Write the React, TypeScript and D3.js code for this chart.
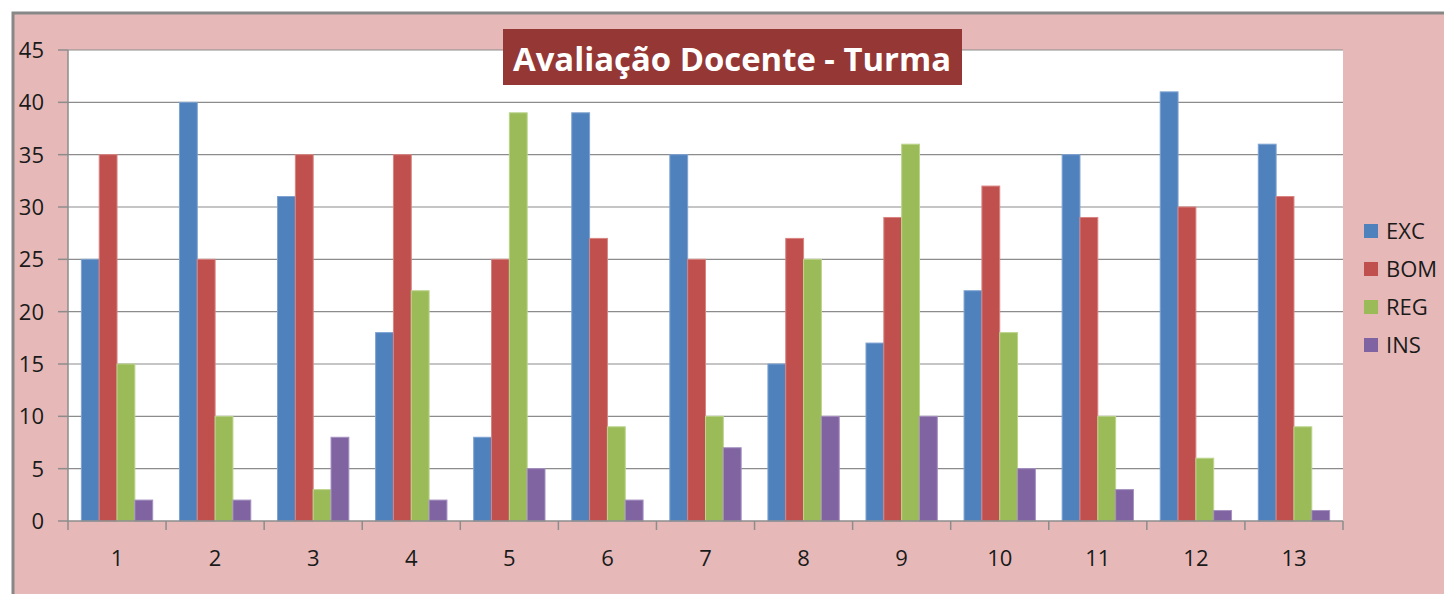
import React, { useRef, useEffect } from "react";
import * as d3 from "d3";

const categories = ["1", "2", "3", "4", "5", "6", "7", "8", "9", "10", "11", "12", "13"];
const seriesNames = ["EXC", "BOM", "REG", "INS"];
const exc = [25, 40, 31, 18, 8, 39, 35, 15, 17, 22, 35, 41, 36];
const bom = [35, 25, 35, 35, 25, 27, 25, 27, 29, 32, 29, 30, 31];
const reg = [15, 10, 3, 22, 39, 9, 10, 25, 36, 18, 10, 6, 9];
const ins = [2, 2, 8, 2, 5, 2, 7, 10, 10, 5, 3, 1, 1];
const yTicks = [0, 5, 10, 15, 20, 25, 30, 35, 40, 45];
const title = "Avaliação Docente - Turma";

const colors = ["#4F81BD", "#C0504D", "#9BBB59", "#8064A2"];
const strokes = ["#7FA3D1", "#D98482", "#BCD48C", "#A691C0"];

const App: React.FC = () => {
  const ref = useRef<SVGSVGElement>(null);

  useEffect(() => {
    document.body.style.margin = "0";
    document.documentElement.style.overflow = "hidden";

    const svg = d3.select(ref.current);
    svg.selectAll("*").remove();

    const width = 1445,
      height = 594;
    const plot = { left: 68, right: 1343, top: 50, bottom: 521 };
    const font = "'Open Sans', Calibri, sans-serif";
    const values = [exc, bom, reg, ins];

    // Background frame (runs off the right and bottom edges)
    svg
      .append("rect")
      .attr("x", 0)
      .attr("y", 0)
      .attr("width", width)
      .attr("height", height)
      .attr("fill", "#fff");
    svg
      .append("rect")
      .attr("x", 12)
      .attr("y", 12)
      .attr("width", width - 13)
      .attr("height", height - 12)
      .attr("fill", "#E6B9B8");
    svg
      .append("path")
      .attr("d", `M13,${height} V13 H${width - 1}`)
      .attr("fill", "none")
      .attr("stroke", "#878787")
      .attr("stroke-width", 3);

    // Plot area
    svg
      .append("rect")
      .attr("x", plot.left)
      .attr("y", plot.top)
      .attr("width", plot.right - plot.left)
      .attr("height", plot.bottom - plot.top)
      .attr("fill", "#fff");

    const x0 = d3
      .scaleBand()
      .domain(categories)
      .range([plot.left, plot.right])
      .paddingInner(1.5 / 5.5)
      .paddingOuter(0.75 / 5.5);
    const x1 = d3.scaleBand().domain(seriesNames).range([0, x0.bandwidth()]);
    const y = d3.scaleLinear().domain([0, 45]).range([plot.bottom, plot.top]);
    const step = x0.step();

    // Grid lines
    svg
      .append("g")
      .selectAll("line")
      .data(yTicks.filter((d) => d > 0))
      .enter()
      .append("line")
      .attr("x1", plot.left)
      .attr("x2", plot.right)
      .attr("y1", (d) => y(d))
      .attr("y2", (d) => y(d))
      .attr("stroke", "#8C8C8C")
      .attr("stroke-width", 1.2);

    // Bars
    const groups = svg
      .append("g")
      .selectAll("g")
      .data(categories)
      .enter()
      .append("g")
      .attr("transform", (d) => `translate(${x0(d)},0)`);

    groups
      .selectAll("rect")
      .data((_, i) => seriesNames.map((s, k) => ({ s, k, v: values[k][i] })))
      .enter()
      .append("rect")
      .attr("x", (d) => x1(d.s)!)
      .attr("y", (d) => y(d.v))
      .attr("width", x1.bandwidth())
      .attr("height", (d) => y(0) - y(d.v))
      .attr("fill", (d) => colors[d.k])
      .attr("stroke", (d) => strokes[d.k])
      .attr("stroke-width", 1);

    // Axes
    const axis = svg.append("g").attr("stroke", "#8C8C8C").attr("stroke-width", 1.5);
    axis
      .append("line")
      .attr("x1", plot.left)
      .attr("x2", plot.left)
      .attr("y1", plot.top)
      .attr("y2", plot.bottom);
    axis
      .append("line")
      .attr("x1", plot.left)
      .attr("x2", plot.right)
      .attr("y1", plot.bottom)
      .attr("y2", plot.bottom);
    axis
      .selectAll(".yt")
      .data(yTicks)
      .enter()
      .append("line")
      .attr("x1", plot.left - 10)
      .attr("x2", plot.left)
      .attr("y1", (d) => y(d))
      .attr("y2", (d) => y(d));
    axis
      .selectAll(".xt")
      .data(d3.range(categories.length + 1))
      .enter()
      .append("line")
      .attr("x1", (i) => plot.left + i * step)
      .attr("x2", (i) => plot.left + i * step)
      .attr("y1", plot.bottom)
      .attr("y2", plot.bottom + 9);

    // Tick labels
    svg
      .append("g")
      .selectAll("text")
      .data(yTicks)
      .enter()
      .append("text")
      .attr("x", 44)
      .attr("y", (d) => y(d) + 8)
      .attr("text-anchor", "end")
      .style("font-family", font)
      .style("font-size", "22px")
      .style("fill", "#1a1a1a")
      .text((d) => d);

    svg
      .append("g")
      .selectAll("text")
      .data(categories)
      .enter()
      .append("text")
      .attr("x", (d) => x0(d)! + x0.bandwidth() / 2)
      .attr("y", 566)
      .attr("text-anchor", "middle")
      .style("font-family", font)
      .style("font-size", "22px")
      .style("fill", "#1a1a1a")
      .text((d) => d);

    // Title
    svg
      .append("rect")
      .attr("x", 503)
      .attr("y", 29)
      .attr("width", 459)
      .attr("height", 56)
      .attr("fill", "#953735");
    svg
      .append("text")
      .attr("x", 732)
      .attr("y", 71)
      .attr("text-anchor", "middle")
      .attr("textLength", 438)
      .attr("lengthAdjust", "spacingAndGlyphs")
      .style("font-family", font)
      .style("font-size", "32px")
      .style("font-weight", "bold")
      .style("fill", "#fff")
      .text(title);

    // Legend
    const legend = svg
      .append("g")
      .selectAll("g")
      .data(seriesNames)
      .enter()
      .append("g")
      .attr("transform", (_, i) => `translate(1364,${224 + i * 38})`);
    legend
      .append("rect")
      .attr("width", 14)
      .attr("height", 14)
      .attr("fill", (_, i) => colors[i]);
    legend
      .append("text")
      .attr("x", 22)
      .attr("y", 15)
      .style("font-family", font)
      .style("font-size", "22px")
      .style("fill", "#1a1a1a")
      .text((d) => d);
  }, []);

  return (
    <div style={{ position: "absolute", left: 0, top: 0 }}>
      <svg ref={ref} width={1445} height={594} style={{ display: "block" }} />
    </div>
  );
};

export default App;
